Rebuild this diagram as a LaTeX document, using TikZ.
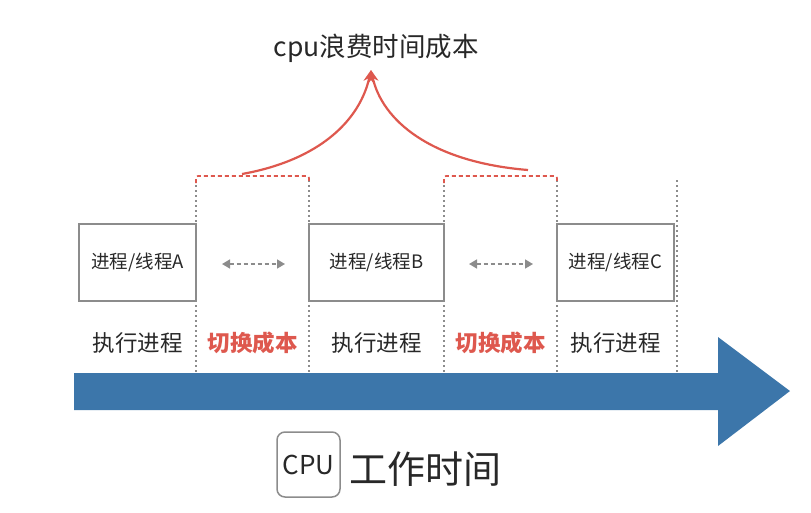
\documentclass[tikz,border=0pt]{standalone}
\usepackage{fontspec}
\setmainfont{Noto Sans CJK SC}
\usetikzlibrary{positioning,arrows.meta,calc}
\definecolor{boxgray}{RGB}{140,140,140}
\definecolor{txtgray}{RGB}{40,40,40}
\definecolor{costred}{RGB}{222,88,78}
\definecolor{cpublue}{RGB}{60,118,170}

\begin{document}
\begin{tikzpicture}[x=1pt,y=-1pt,
      proc/.style={rectangle,draw=boxgray,line width=1.6pt,minimum height=77pt,outer sep=0pt,inner sep=0pt,text=txtgray,font=\fontsize{18.5}{21}\selectfont},
      runlbl/.style={text=txtgray,font=\fontsize{22.5}{26}\selectfont},
      costlbl/.style={text=costred,font=\fontsize{22.5}{26}\selectfont\bfseries},
      slot/.style={draw=boxgray,line width=1.4pt,dash pattern=on 2pt off 3pt},
      slottop/.style={draw=costred,line width=1.6pt,dash pattern=on 4pt off 3pt,rounded corners=2pt},
      swap/.style={draw=boxgray,line width=1.6pt,dash pattern=on 4pt off 3pt,{Triangle[length=8pt,width=9pt]}-{Triangle[length=8pt,width=9pt]}},
      waste/.style={draw=costred,line width=2.2pt,-{Stealth[length=12pt,width=10pt]}}]
      \useasboundingbox (0,0) rectangle (811,512);
      \node[proc,minimum width=117pt] (procA) at (137.5,262.5) {进程/线程A};
      \node[proc,minimum width=135pt,right=113pt of procA] (procB) {进程/线程B};
      \node[proc,minimum width=117pt,right=113pt of procB] (procC) {进程/线程C};
      \coordinate (endmark) at (677,262.5);
      % switching slots
      \foreach \n/\a in {procA/east,procB/west,procB/east,procC/west,endmark/center}
        \draw[slot] (\n.\a |- 0,180) -- (\n.\a |- 0,372);
      \draw[slottop] (procA.east |- 0,183) -- (procA.east |- 0,176) -- (procB.west |- 0,176) -- (procB.west |- 0,183);
      \draw[slottop] (procB.east |- 0,183) -- (procB.east |- 0,176) -- (procC.west |- 0,176) -- (procC.west |- 0,183);
      \draw[swap] ([xshift=26pt,yshift=-1.5pt]procA.east) -- ([xshift=-24pt,yshift=-1.5pt]procB.west);
      \draw[swap] ([xshift=25pt,yshift=-1.5pt]procB.east) -- ([xshift=-24pt,yshift=-1.5pt]procC.west);
      \node[runlbl] (runA) at (procA |- 0,343) {执行进程};
      \node[runlbl] (runB) at (procB |- 0,343) {执行进程};
      \node[runlbl] (runC) at (procC |- 0,343) {执行进程};
      \node[costlbl] (costA) at ($(procA.east |- 0,343)!0.5!(procB.west |- 0,343)$) {切换成本};
      \node[costlbl] (costB) at ($(procB.east |- 0,343)!0.5!(procC.west |- 0,343)$) {切换成本};
      % time axis
      \fill[cpublue] (74,373) -- (718,373) -- (718,337) -- (790,391) -- (718,446) -- (718,410) -- (74,410) -- cycle;
      % wasted time
      \node[text=txtgray,font=\fontsize{26.5}{30}\selectfont] (waste) at (376,48) {cpu浪费时间成本};
      \coordinate (peak) at (371,70);
      \coordinate (fromA) at (242,174);
      \coordinate (fromB) at (528,170);
      \draw[waste] (fromA) .. controls (320,160) and (360,120) .. (peak);
      \draw[waste] (fromB) .. controls (430,162) and (382,120) .. (peak);
      \node[draw=boxgray,line width=1.5pt,rounded corners=8pt,minimum width=63pt,minimum height=65pt,inner sep=0pt,text=txtgray,font=\fontsize{26}{28}\selectfont] (cpu) at (308.5,464.5) {CPU};
      \node[right=5pt of cpu,yshift=-5pt,text=txtgray,font=\fontsize{38}{42}\selectfont] (worktime) {工作时间};
    \end{tikzpicture}
\end{document}
